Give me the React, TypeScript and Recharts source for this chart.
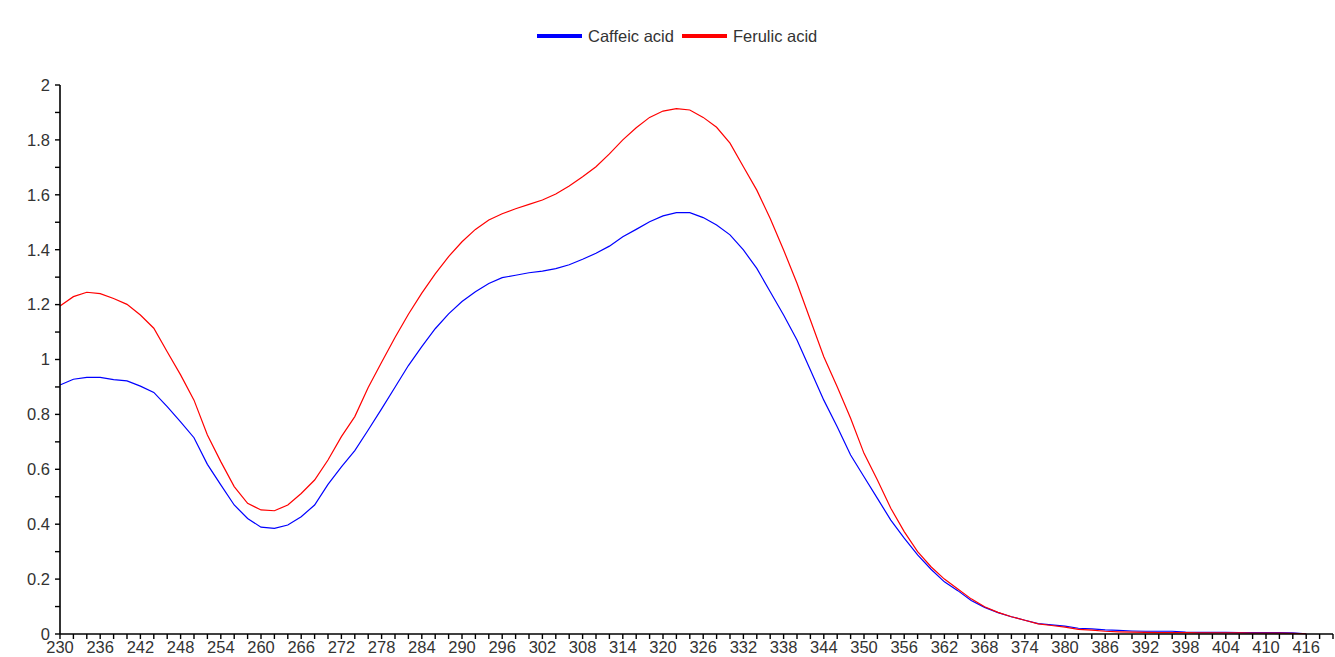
import React from "react";
import { LineChart, Line, XAxis, YAxis, Legend } from "recharts";

// wavelength (nm), sampled every 2 nm
const WAVELENGTHS = [
  230, 232, 234, 236, 238, 240, 242, 244, 246, 248, 250, 252, 254, 256, 258,
  260, 262, 264, 266, 268, 270, 272, 274, 276, 278, 280, 282, 284, 286, 288,
  290, 292, 294, 296, 298, 300, 302, 304, 306, 308, 310, 312, 314, 316, 318,
  320, 322, 324, 326, 328, 330, 332, 334, 336, 338, 340, 342, 344, 346, 348,
  350, 352, 354, 356, 358, 360, 362, 364, 366, 368, 370, 372, 374, 376, 378,
  380, 382, 384, 386, 388, 390, 392, 394, 396, 398, 400, 402, 404, 406, 408,
  410, 412, 414, 416,
];

const CAFFEIC = [
  0.907, 0.928, 0.935, 0.935, 0.927, 0.922, 0.903, 0.88, 0.828, 0.773, 0.715,
  0.618, 0.543, 0.47, 0.421, 0.389, 0.385, 0.397, 0.427, 0.47, 0.545, 0.609,
  0.668, 0.743, 0.82, 0.899, 0.978, 1.047, 1.112, 1.166, 1.211, 1.247, 1.277,
  1.298, 1.307, 1.316, 1.322, 1.331, 1.345, 1.365, 1.387, 1.413, 1.447, 1.474,
  1.502, 1.523, 1.535, 1.535, 1.517, 1.49, 1.454, 1.399, 1.332, 1.247, 1.162,
  1.071, 0.962, 0.852, 0.755, 0.652, 0.573, 0.494, 0.415, 0.349, 0.288, 0.236,
  0.19, 0.158, 0.122, 0.097, 0.078, 0.063, 0.05, 0.038, 0.033, 0.029, 0.021,
  0.019, 0.015, 0.013, 0.011, 0.01, 0.01, 0.01, 0.007, 0.006, 0.006, 0.006,
  0.005, 0.005, 0.005, 0.005, 0.004, 0.001,
];

const FERULIC = [
  1.195, 1.229, 1.245, 1.24, 1.222, 1.201, 1.162, 1.114, 1.028, 0.944, 0.852,
  0.725, 0.628, 0.537, 0.476, 0.452, 0.449, 0.47, 0.512, 0.561, 0.634, 0.719,
  0.792, 0.898, 0.99, 1.08, 1.165, 1.242, 1.312, 1.375, 1.429, 1.474, 1.508,
  1.531, 1.549, 1.565, 1.581, 1.603, 1.632, 1.666, 1.702, 1.749, 1.8, 1.844,
  1.882, 1.905, 1.914, 1.909, 1.882, 1.846, 1.788, 1.702, 1.617, 1.514, 1.399,
  1.278, 1.144, 1.01, 0.901, 0.786, 0.658, 0.561, 0.458, 0.373, 0.3, 0.245,
  0.2, 0.164, 0.128, 0.099, 0.079, 0.063, 0.05, 0.037, 0.031, 0.025, 0.017,
  0.014, 0.01, 0.008, 0.007, 0.006, 0.005, 0.005, 0.005, 0.004, 0.004, 0.004,
  0.004, 0.003, 0.003, 0.003, 0.002, 0.001,
];

// minor ticks every 2 nm, labels every 6 nm
const X_TICKS = [
  230, 232, 234, 236, 238, 240, 242, 244, 246, 248, 250, 252, 254, 256, 258,
  260, 262, 264, 266, 268, 270, 272, 274, 276, 278, 280, 282, 284, 286, 288,
  290, 292, 294, 296, 298, 300, 302, 304, 306, 308, 310, 312, 314, 316, 318,
  320, 322, 324, 326, 328, 330, 332, 334, 336, 338, 340, 342, 344, 346, 348,
  350, 352, 354, 356, 358, 360, 362, 364, 366, 368, 370, 372, 374, 376, 378,
  380, 382, 384, 386, 388, 390, 392, 394, 396, 398, 400, 402, 404, 406, 408,
  410, 412, 414, 416, 418, 420,
];

// minor ticks every 0.1, labels every 0.2
const Y_TICKS = [
  0, 0.1, 0.2, 0.3, 0.4, 0.5, 0.6, 0.7, 0.8, 0.9, 1, 1.1, 1.2, 1.3, 1.4, 1.5,
  1.6, 1.7, 1.8, 1.9, 2,
];

const SERIES = [
  { key: "caffeic", name: "Caffeic acid", color: "#0000ff" },
  { key: "ferulic", name: "Ferulic acid", color: "#ff0000" },
];

const FONT = '"Liberation Sans", Arial, sans-serif';
const TEXT = "#333";
const SIZE = 16.5;

const data = WAVELENGTHS.map((nm, i) => ({
  nm,
  caffeic: CAFFEIC[i],
  ferulic: FERULIC[i],
}));

const xLabel = (v: number) =>
  (v - 230) % 6 === 0 && v <= 416 ? String(v) : "";

const yLabel = (v: number) => {
  const t = Math.round(v * 10);
  return t % 2 === 0 ? String(t / 10) : "";
};

function LegendBox() {
  return (
    <div
      style={{
        height: 85,
        paddingTop: 27,
        paddingLeft: 537,
        boxSizing: "border-box",
        display: "flex",
        alignItems: "flex-start",
        fontFamily: FONT,
        fontSize: SIZE,
        color: TEXT,
        lineHeight: "18px",
      }}
    >
      {SERIES.map((s) => (
        <div
          key={s.key}
          style={{ display: "flex", alignItems: "center", marginRight: 8 }}
        >
          <span
            style={{
              display: "inline-block",
              width: 45,
              height: 4,
              background: s.color,
              marginRight: 6,
            }}
          />
          <span>{s.name}</span>
        </div>
      ))}
    </div>
  );
}

export default function App() {
  return (
    <div
      style={{
        position: "absolute",
        left: 0,
        top: 0,
        width: 1335,
        height: 657,
        background: "#fff",
        fontFamily: FONT,
      }}
    >
      <LineChart
        width={1335}
        height={657}
        data={data}
        margin={{ top: 0, right: 2, bottom: 0, left: 0 }}
      >
        <Legend
          verticalAlign="top"
          align="left"
          content={() => <LegendBox />}
          wrapperStyle={{ left: 0, top: 0, width: 1335, height: 85 }}
        />
        <XAxis
          dataKey="nm"
          type="number"
          domain={[230, 420]}
          ticks={X_TICKS}
          interval={0}
          tickFormatter={xLabel}
          height={23}
          tickSize={5}
          tickMargin={2}
          axisLine={{ stroke: "#000", strokeWidth: 1.6 }}
          tickLine={{ stroke: "#000", strokeWidth: 1.4 }}
          tick={{ fill: TEXT, fontSize: SIZE, fontFamily: FONT }}
        />
        <YAxis
          type="number"
          domain={[0, 2]}
          ticks={Y_TICKS}
          interval={0}
          tickFormatter={yLabel}
          width={60}
          tickSize={5}
          tickMargin={5}
          axisLine={{ stroke: "#000", strokeWidth: 1.6 }}
          tickLine={{ stroke: "#000", strokeWidth: 1.4 }}
          tick={{ fill: TEXT, fontSize: SIZE, fontFamily: FONT }}
        />
        {SERIES.map((s) => (
          <Line
            key={s.key}
            type="linear"
            dataKey={s.key}
            name={s.name}
            stroke={s.color}
            strokeWidth={1.2}
            dot={false}
            isAnimationActive={false}
          />
        ))}
      </LineChart>
    </div>
  );
}
